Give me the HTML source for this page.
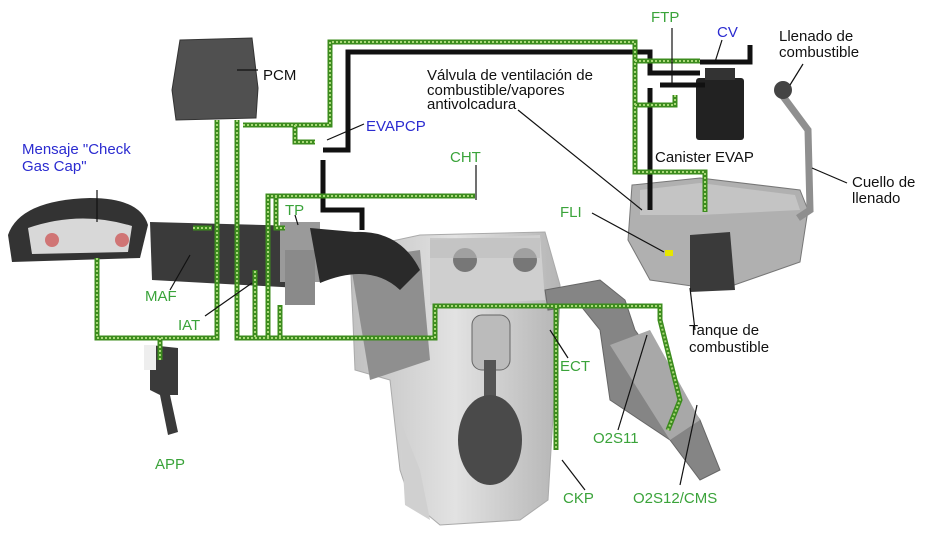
<!DOCTYPE html>
<html><head><meta charset="utf-8"><style>
html,body{margin:0;padding:0;background:#fff}
svg{display:block}
text{font-family:"Liberation Sans",sans-serif;font-size:15px}
.g{fill:#3aa33a}.b{fill:#2b2bd0}.k{fill:#111}
</style></head><body>
<svg width="929" height="533" viewBox="0 0 929 533" xmlns="http://www.w3.org/2000/svg">
<defs>
<linearGradient id="eng" x1="0" x2="1"><stop offset="0" stop-color="#c0c0c0"/><stop offset="0.5" stop-color="#e2e2e2"/><stop offset="1" stop-color="#b5b5b5"/></linearGradient>
</defs>
<!-- engine -->
<path d="M350,250 L420,235 L545,232 L560,285 L560,300 L548,500 L520,520 L440,525 L410,500 L400,470 L390,380 L355,370 Z" fill="url(#eng)" stroke="#aaa"/>
<path d="M430,240 L540,235 L545,300 L430,305 Z" fill="#cfcfcf"/>
<path d="M350,260 L420,250 L430,360 L370,380 Z" fill="#8f8f8f"/>
<path d="M400,420 L420,470 L430,520 L405,505 Z" fill="#d0d0d0"/>
<rect x="472" y="315" width="38" height="55" rx="10" fill="#bbb" stroke="#666"/>
<rect x="484" y="360" width="12" height="70" fill="#555"/>
<ellipse cx="490" cy="440" rx="32" ry="45" fill="#4a4a4a"/>
<circle cx="465" cy="260" r="12" fill="#777"/><circle cx="525" cy="260" r="12" fill="#777"/>
<rect x="430" y="238" width="110" height="20" fill="#bdbdbd" opacity="0.6"/>
<!-- exhaust/cat -->
<path d="M545,290 L600,280 L625,300 L635,330 L700,420 L720,470 L700,480 L670,440 L610,400 L600,330 L580,305 L548,310 Z" fill="#858585" stroke="#666"/>
<path d="M610,345 L650,330 L700,420 L670,440 Z" fill="#a8a8a8"/>
<!-- intake -->
<path d="M150,222 L300,226 L300,288 L152,280 Z" fill="#3a3a3a"/>
<rect x="280" y="222" width="40" height="60" fill="#9a9a9a"/>
<rect x="285" y="250" width="30" height="55" fill="#8a8a8a"/>
<path d="M310,228 L355,232 Q400,230 420,270 L400,290 Q370,262 320,283 Z" fill="#2a2a2a"/>
<!-- PCM -->
<path d="M180,40 L252,38 L258,88 L256,118 L176,120 L172,90 Z" fill="#505050" stroke="#333"/>
<!-- cluster -->
<path d="M8,235 Q20,200 90,198 Q140,198 148,225 L140,258 L12,262 Z" fill="#333"/>
<path d="M28,228 Q80,210 132,226 L128,252 L32,254 Z" fill="#d8d8d8"/>
<circle cx="52" cy="240" r="7" fill="#c33" opacity="0.6"/><circle cx="122" cy="240" r="7" fill="#c33" opacity="0.6"/>
<!-- pedal -->
<path d="M150,345 L178,348 L178,395 L170,395 L178,432 L168,435 L160,395 L150,390 Z" fill="#3a3a3a"/>
<rect x="144" y="345" width="12" height="25" fill="#eee"/>
<!-- tank -->
<path d="M632,185 L700,178 L800,190 L808,210 L800,262 L720,290 L650,280 L628,240 Z" fill="#b0b0b0" stroke="#777"/>
<path d="M640,190 L700,183 L795,195 L800,210 L700,215 L640,215 Z" fill="#c4c4c4"/>
<path d="M690,235 L730,232 L735,290 L690,292 Z" fill="#3a3a3a"/>
<rect x="665" y="250" width="8" height="6" fill="#e6e600"/>
<!-- filler neck -->
<path d="M782,95 L808,130 L810,210 L798,218" fill="none" stroke="#8f8f8f" stroke-width="7"/>
<circle cx="783" cy="90" r="9" fill="#444"/>
<!-- canister -->
<rect x="696" y="78" width="48" height="62" rx="3" fill="#222"/>
<rect x="705" y="68" width="30" height="12" fill="#333"/>
<!-- black hoses -->
<g fill="none" stroke="#111" stroke-width="5">
<path d="M323,160 L323,210 L362,210 L362,230"/>
<path d="M323,150 L348,150 L348,52 L650,52 L650,73 L700,73"/>
<path d="M650,88 L650,210"/>
<path d="M700,62 L750,62 L750,45"/>
<path d="M660,85 L705,85"/>
</g>
<!-- green wires -->
<g fill="none" stroke-linejoin="miter">
<g stroke="#3c8c1e" stroke-width="5">
<path id="w" d="M217,120 L217,338 L97,338 L97,258 M237,120 L237,338 L435,338 L435,306 L660,306 L660,320 L680,400 L668,430 M243,125 L330,125 L330,42 L635,42 L635,172 L705,172 L705,212 M635,61 L700,61 M635,105 L675,105 L675,95 M295,125 L295,142 L315,142 M268,337 L268,196 L475,196 M276,196 L276,228 L285,228 M556,306 L556,450 M160,338 L160,360 M193,228 L212,228 M255,337 L255,270 M280,337 L280,305"/>
</g>
<use href="#w" stroke="#a8d878" stroke-width="2" stroke-dasharray="2 2"/>
</g>
<!-- leader lines -->
<g stroke="#111" stroke-width="1.2" fill="none">
<line x1="237" y1="70" x2="258" y2="70"/>
<line x1="364" y1="124" x2="327" y2="140"/>
<line x1="97" y1="190" x2="97" y2="222"/>
<line x1="518" y1="110" x2="642" y2="210"/>
<line x1="672" y1="28" x2="672" y2="85"/>
<line x1="722" y1="40" x2="715" y2="62"/>
<line x1="803" y1="64" x2="790" y2="85"/>
<line x1="847" y1="183" x2="812" y2="168"/>
<line x1="476" y1="165" x2="476" y2="200"/>
<line x1="592" y1="213" x2="664" y2="252"/>
<line x1="295" y1="215" x2="298" y2="225"/>
<line x1="170" y1="290" x2="190" y2="255"/>
<line x1="205" y1="316" x2="252" y2="283"/>
<line x1="568" y1="358" x2="550" y2="330"/>
<line x1="695" y1="330" x2="690" y2="288"/>
<line x1="618" y1="430" x2="647" y2="335"/>
<line x1="680" y1="485" x2="697" y2="405"/>
<line x1="585" y1="490" x2="562" y2="460"/>
</g>
<!-- labels -->
<text x="263" y="80" class="k">PCM</text>
<text x="22" y="154" class="b">Mensaje "Check</text>
<text x="22" y="171" class="b">Gas Cap"</text>
<text x="366" y="131" class="b">EVAPCP</text>
<text x="427" y="80" class="k">Válvula de ventilación de</text>
<text x="427" y="95" class="k">combustible/vapores</text>
<text x="427" y="109" class="k">antivolcadura</text>
<text x="651" y="22" class="g">FTP</text>
<text x="717" y="37" class="b">CV</text>
<text x="779" y="41" class="k">Llenado de</text>
<text x="779" y="57" class="k">combustible</text>
<text x="655" y="162" class="k">Canister EVAP</text>
<text x="450" y="162" class="g">CHT</text>
<text x="852" y="187" class="k">Cuello de</text>
<text x="852" y="203" class="k">llenado</text>
<text x="560" y="217" class="g">FLI</text>
<text x="285" y="215" class="g">TP</text>
<text x="145" y="301" class="g">MAF</text>
<text x="178" y="330" class="g">IAT</text>
<text x="560" y="371" class="g">ECT</text>
<text x="689" y="335" class="k">Tanque de</text>
<text x="689" y="352" class="k">combustible</text>
<text x="155" y="469" class="g">APP</text>
<text x="593" y="443" class="g">O2S11</text>
<text x="563" y="503" class="g">CKP</text>
<text x="633" y="503" class="g">O2S12/CMS</text>
</svg>
</body></html>
